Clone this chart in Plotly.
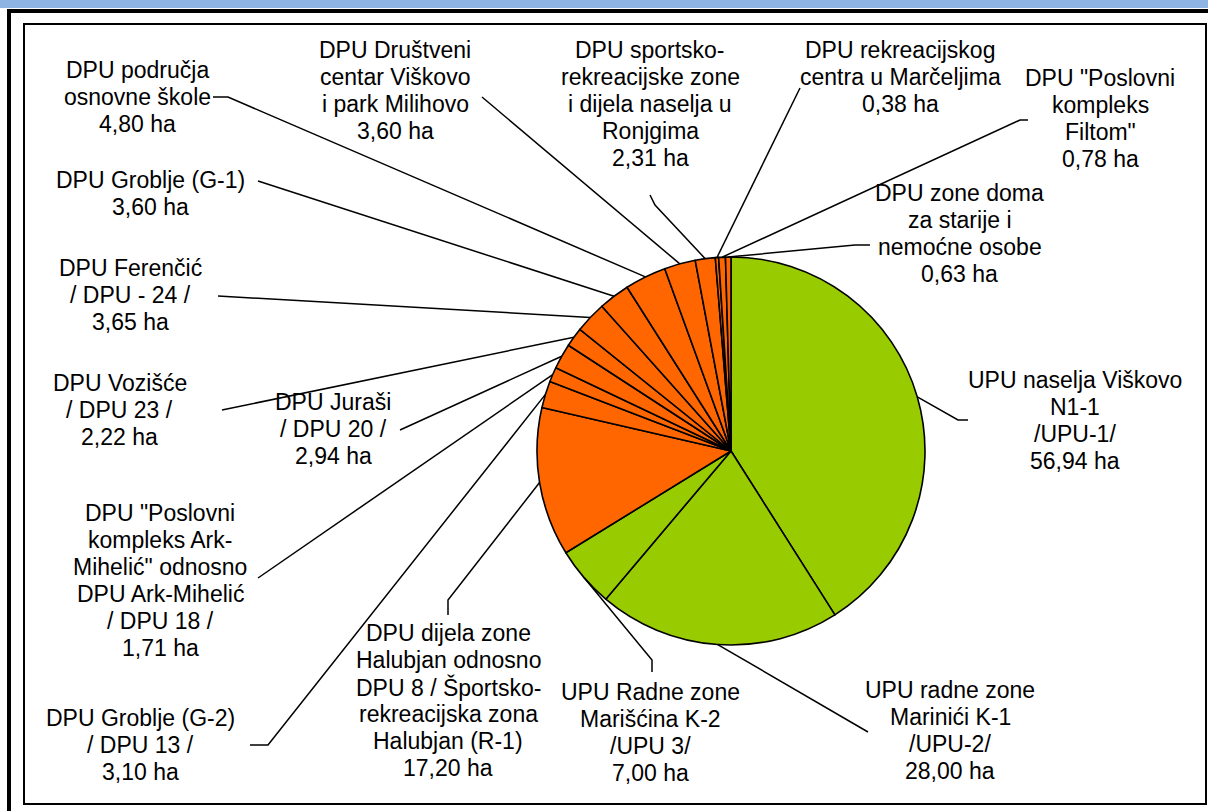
import math
import plotly.graph_objects as go

W, H = 1208, 811

labels = [
    "UPU naselja Viškovo N1-1 /UPU-1/",
    "UPU radne zone Marinići K-1 /UPU-2/",
    "UPU Radne zone Marišćina K-2 /UPU 3/",
    "DPU dijela zone Halubjan odnosno DPU 8 / Športsko-rekreacijska zona Halubjan (R-1)",
    "DPU Groblje (G-2) / DPU 13 /",
    "DPU \"Poslovni kompleks Ark-Mihelić\" odnosno DPU Ark-Mihelić / DPU 18 /",
    "DPU Juraši / DPU 20 /",
    "DPU Vozišće / DPU 23 /",
    "DPU Ferenčić / DPU - 24 /",
    "DPU Groblje (G-1)",
    "DPU područja osnovne škole",
    "DPU Društveni centar Viškovo i park Milihovo",
    "DPU sportsko-rekreacijske zone i dijela naselja u Ronjgima",
    "DPU rekreacijskog centra u Marčeljima",
    "DPU \"Poslovni kompleks Filtom\"",
    "DPU zone doma za starije i nemoćne osobe",
]
values = [56.94, 28.00, 7.00, 17.20, 3.10, 1.71, 2.94, 2.22, 3.65, 3.60, 4.80, 3.60, 2.31, 0.38, 0.78, 0.63]
value_text = ["56,94 ha", "28,00 ha", "7,00 ha", "17,20 ha", "3,10 ha", "1,71 ha", "2,94 ha", "2,22 ha",
              "3,65 ha", "3,60 ha", "4,80 ha", "3,60 ha", "2,31 ha", "0,38 ha", "0,78 ha", "0,63 ha"]
label_lines = [
    ["UPU naselja Viškovo", "N1-1", "/UPU-1/"],
    ["UPU radne zone", "Marinići K-1", "/UPU-2/"],
    ["UPU Radne zone", "Marišćina K-2", "/UPU 3/"],
    ["DPU dijela zone", "Halubjan odnosno", "DPU 8 / Športsko-", "rekreacijska zona", "Halubjan (R-1)"],
    ["DPU Groblje (G-2)", "/ DPU 13 /"],
    ["DPU \"Poslovni", "kompleks Ark-", "Mihelić\" odnosno", "DPU Ark-Mihelić", "/ DPU 18 /"],
    ["DPU Juraši", "/ DPU 20 /"],
    ["DPU Vozišće", "/ DPU 23 /"],
    ["DPU Ferenčić", "/ DPU - 24 /"],
    ["DPU Groblje (G-1)"],
    ["DPU područja", "osnovne škole"],
    ["DPU Društveni", "centar Viškovo", "i park Milihovo"],
    ["DPU sportsko-", "rekreacijske zone", "i dijela naselja u", "Ronjgima"],
    ["DPU rekreacijskog", "centra u Marčeljima"],
    ["DPU \"Poslovni", "kompleks", "Filtom\""],
    ["DPU zone doma", "za starije i", "nemoćne osobe"],
]
colors = ["#99CC00"] * 3 + ["#FF6600"] * 13

# label layout: (center x, y of first line centre) in px, and leader start points
label_pos = [
    (1075, 380), (950, 690), (650, 692), (448, 633), (140, 718), (160, 513),
    (333, 402), (120, 383), (130, 268), (150, 180), (137, 70), (395, 50),
    (650, 50), (900, 50), (1100, 78), (960, 193),
]
leader_start = [
    [(968, 420), (958, 420)], [(868, 732)], [(652, 672), (652, 660)], [(448, 615), (448, 600)],
    [(250, 745), (268, 745)], [(258, 578)], [(400, 430)], [(222, 410)], [(218, 296)],
    [(258, 181)], [(213, 97), (228, 97)], [(482, 97)], [(650, 195), (655, 205)],
    [(800, 88)], [(1028, 120), (1020, 120)], [(870, 245), (855, 245)],
]

CX, CY, R = 731, 451, 194
FS = 23
LH = 27

fig = go.Figure()
fig.add_trace(go.Pie(
    labels=labels, values=values, sort=False, direction="clockwise", rotation=0,
    marker=dict(colors=colors, line=dict(color="black", width=1.6)),
    textinfo="none", hoverinfo="label+value", showlegend=False,
    domain=dict(x=[(CX - R) / W, (CX + R) / W], y=[1 - (CY + R) / H, 1 - (CY - R) / H]),
))

def px(x, y):
    return x / W, 1 - y / H

shapes = []
annotations = []
total = sum(values)
cum = 0.0
for i, v in enumerate(values):
    mid = (cum + v / 2) / total * 2 * math.pi
    cum += v
    ex, ey = CX + R * math.sin(mid), CY - R * math.cos(mid)
    pts = leader_start[i] + [(ex, ey)]
    path = "M " + " L ".join(f"{px(x, y)[0]:.5f},{px(x, y)[1]:.5f}" for x, y in pts)
    shapes.append(dict(type="path", path=path, xref="paper", yref="paper",
                       line=dict(color="black", width=1.5), layer="above"))
    lx, ly = label_pos[i]
    for k, line in enumerate(label_lines[i] + [value_text[i]]):
        yy = ly + k * LH
        annotations.append(dict(text=line, x=lx / W, y=1 - yy / H, xref="paper", yref="paper",
                                xanchor="center", yanchor="middle", showarrow=False, align="center",
                                font=dict(family="Liberation Sans, Arial, sans-serif", size=FS, color="black")))

# header bar and frames
shapes.append(dict(type="rect", x0=0, x1=1, y0=1 - 8 / H, y1=1, xref="paper", yref="paper",
                   fillcolor="#8DB4E2", line=dict(width=0), layer="below"))
shapes.append(dict(type="line", x0=7 / W, x1=1, y0=1 - 11 / H, y1=1 - 11 / H, xref="paper", yref="paper",
                   line=dict(color="black", width=4), layer="above"))
shapes.append(dict(type="line", x0=9 / W, x1=9 / W, y0=1 - 9 / H, y1=0, xref="paper", yref="paper",
                   line=dict(color="black", width=4), layer="above"))
shapes.append(dict(type="rect", x0=24 / W, x1=1206 / W, y0=1 - 804 / H, y1=1 - 24 / H, xref="paper", yref="paper",
                   line=dict(color="black", width=2), fillcolor="rgba(0,0,0,0)", layer="above"))

fig.update_layout(width=W, height=H, margin=dict(l=0, r=0, t=0, b=0),
                  paper_bgcolor="white", plot_bgcolor="white",
                  shapes=shapes, annotations=annotations)
fig.write_html("out.html", config={"displayModeBar": False},
               post_script="document.body.style.margin='0px';document.body.style.overflow='hidden';")
